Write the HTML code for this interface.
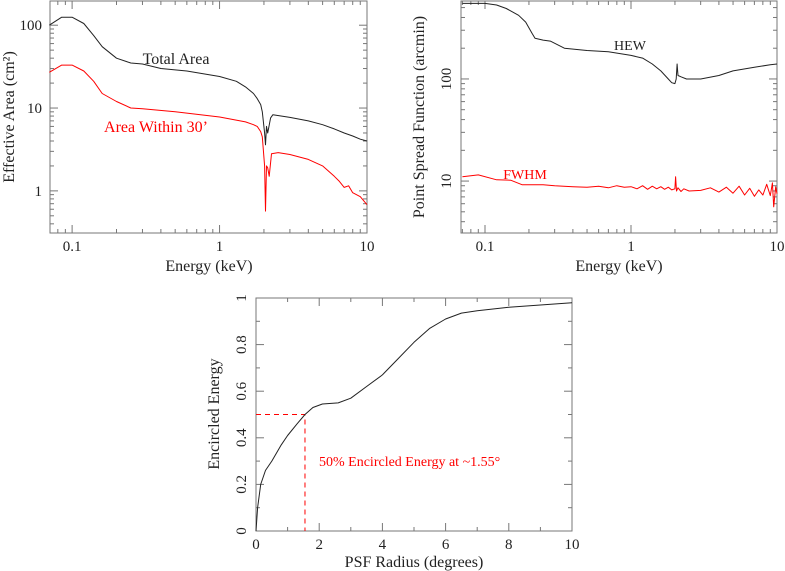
<!DOCTYPE html>
<html><head><meta charset="utf-8"><style>
html,body{margin:0;padding:0;background:#fff;}
svg{display:block;}
svg text{font-family:"Liberation Serif","DejaVu Serif",serif;}
</style></head><body>
<svg id="s" width="785" height="571" viewBox="0 0 785 571"></svg>
<script>
// Plot 1: Effective area
const eTot=[0.07,0.085,0.1,0.12,0.14,0.16,0.2,0.25,0.3,0.4,0.6,1,1.3,1.5,1.7,1.8,1.9,1.95,2.02,2.05,2.08,2.12,2.17,2.22,2.3,3,4,5,6,7,8,9,10];
const aTot=[100,125,125,105,75,55,40,35,34,30,28,24,21,18,15,13,11,9,5,3.6,6,5,6.2,7.6,8.3,7.7,7,6.3,5.6,5,4.6,4.2,4.0];
const eIn=[0.07,0.085,0.1,0.12,0.14,0.16,0.2,0.25,0.3,0.5,1,1.5,1.7,1.8,1.9,1.95,2.02,2.05,2.08,2.12,2.17,2.25,2.5,3,4,5,6,6.5,7,7.5,8,9,10];
const aIn=[27,33,33,28,21,15,12,10,9.8,9,7.8,6.8,6.3,6,5.2,4.5,2,0.57,2.0,1.9,1.5,2.8,2.9,2.75,2.4,2.0,1.5,1.3,1.1,1.15,0.95,0.85,0.68];
const yTicks1=[1,10,100];
// Plot 2: PSF
const eHew=[0.07,0.1,0.12,0.14,0.17,0.19,0.21,0.22,0.25,0.28,0.35,0.5,0.7,1,1.2,1.4,1.6,1.8,1.9,2.0,2.04,2.07,2.1,2.2,2.4,3,4,5,7,9,10];
const hew=[550,550,530,490,420,360,280,250,240,235,200,190,185,170,160,140,120,100,92,90,100,140,108,105,100,100,108,120,130,138,140];
const eFw=[0.07,0.09,0.12,0.15,0.18,0.25,0.3,0.4,0.5,0.6,0.7,0.8,0.9,1,1.1,1.2,1.3,1.4,1.5,1.6,1.7,1.8,1.9,2.0,2.02,2.05,2.1,2.2,2.3,2.5,3,3.5,4,4.5,5,5.5,6,6.5,7,7.5,8,8.5,9,9.3,9.5,9.8,10];
const fwhm=[11,11.5,10.3,10.2,9.2,9.2,9,8.8,8.7,8.9,8.6,9,8.7,8.8,8.4,9,8.3,8.9,8.4,8.8,8.3,8.7,8.2,8.4,11,8,8.6,7.9,8.4,8.0,8.1,8.6,7.8,8.7,7.6,8.9,7.3,8.5,7.1,8.2,7.3,9.3,7.2,9.6,5.6,8.8,7.5];
const yTicks2=[10,100];
// Plot 3: Encircled energy
const rad=[0,0.05,0.15,0.3,0.5,0.8,1,1.3,1.55,1.8,2.1,2.6,3,3.5,4,4.5,5,5.5,6,6.5,7,8,9,10];
const ee=[0,0.1,0.2,0.26,0.3,0.37,0.41,0.46,0.5,0.53,0.545,0.55,0.57,0.62,0.67,0.74,0.81,0.87,0.91,0.935,0.945,0.96,0.97,0.98];
const xTicks3=[0,2,4,6,8,10];
const yTicks3=[0,0.2,0.4,0.6,0.8,1];
const half=[1.55,0.5];

const NS="http://www.w3.org/2000/svg";
const svg=document.getElementById('s');
function mk(t,a,p){const e=document.createElementNS(NS,t);for(const k in a)e.setAttribute(k,a[k]);(p||svg).appendChild(e);return e;}
function txt(s,x,y,a,p){const e=mk('text',Object.assign({x:x,y:y,'font-size':15,'font-family':'Liberation Serif, serif',fill:'#222','text-anchor':'middle'},a),p);e.textContent=s;return e;}
function logS(a,b,p0,p1){return v=>p0+(Math.log10(v)-Math.log10(a))/(Math.log10(b)-Math.log10(a))*(p1-p0);}
function linS(a,b,p0,p1){return v=>p0+(v-a)/(b-a)*(p1-p0);}
function path(xs,ys,X,Y,col,p,nm){const d=xs.map((v,i)=>(i?'L':'M')+X(v).toFixed(1)+','+Y(ys[i]).toFixed(1)).join('');const e=mk('path',{d:d,fill:'none',stroke:col,'stroke-width':1,'stroke-linejoin':'round'},p);return e;}
function frame(L,T,R,B,g){mk('rect',{x:L,y:T,width:R-L,height:B-T,fill:'none',stroke:'#777','stroke-width':1},g);}
function tick(x1,y1,x2,y2,g){mk('line',{x1:x1,y1:y1,x2:x2,y2:y2,stroke:'#777','stroke-width':1},g);}
function logXTicks(X,L,R,T,B,g){for(let d=0.01;d<=10;d*=10)for(let m=1;m<10;m++){const v=d*m;const x=X(v);if(x<L-0.5||x>R+0.5)continue;const len=m==1?8:4;tick(x,B,x,B-len,g);tick(x,T,x,T+len,g);}}
function logYTicks(Y,L,R,T,B,g){for(let d=0.1;d<=1000;d*=10)for(let m=1;m<10;m++){const v=d*m;const y=Y(v);if(y<T-0.5||y>B+0.5)continue;const len=m==1?8:4;tick(L,y,L+len,y,g);tick(R,y,R-len,y,g);}}

// ---- Plot 1
{const g=mk('g',{});  
const L=50,R=367,T=1,B=233;const X=logS(0.0708,10,L,R),Y=logS(0.31,196,B,T);
frame(L,T,R,B,g);logXTicks(X,L,R,T,B,g);logYTicks(Y,L,R,T,B,g);
[[0.1,'0.1'],[1,'1'],[10,'10']].forEach(t=>{const e=txt(t[1],X(t[0]),251,{},g);});
yTicks1.forEach(v=>{const e=txt(String(v),L-8,Y(v)+5,{'text-anchor':'end'},g);});
path(eTot,aTot,X,Y,'#222',g,'total-area-line');path(eIn,aIn,X,Y,'#f00',g,'area-within-30-line');
let e=txt('Total Area',176,64,{'font-size':16},g);
e=txt('Area Within 30’',156,132,{'font-size':16,fill:'#f00'},g);
e=txt('Energy (keV)',209,271,{'font-size':16},g);
e=txt('Effective Area (cm²)',0,0,{'font-size':16,transform:'translate(14,117) rotate(-90)'},g);}

// ---- Plot 2
{const g=mk('g',{});  
const L=461,R=777,T=1,B=233;const X=logS(0.0685,10,L,R),Y=logS(3.1,580,B,T);
frame(L,T,R,B,g);logXTicks(X,L,R,T,B,g);logYTicks(Y,L,R,T,B,g);
[[0.1,'0.1'],[1,'1'],[10,'10']].forEach(t=>{const e=txt(t[1],X(t[0]),251,{},g);});
yTicks2.forEach(v=>{const e=txt(String(v),0,0,{transform:'translate('+(L-10)+','+Y(v)+') rotate(-90)'},g);});
path(eHew,hew,X,Y,'#222',g,'hew-line');path(eFw,fwhm,X,Y,'#f00',g,'fwhm-line');
let e=txt('HEW',630,50,{'font-size':14},g);
e=txt('FWHM',525,179,{'font-size':14,fill:'#f00'},g);
e=txt('Energy (keV)',619,271,{'font-size':16},g);
e=txt('Point Spread Function (arcmin)',0,0,{'font-size':16,transform:'translate(424,117) rotate(-90)'},g);}

// ---- Plot 3
{const g=mk('g',{});  
const L=256,R=572,T=298,B=531;const X=linS(0,10,L,R),Y=linS(0,1,B,T);
frame(L,T,R,B,g);
for(let v=0;v<=10.001;v+=1){const x=X(v),len=(Math.round(v)%2==0)?8:4;tick(x,B,x,B-len,g);tick(x,T,x,T+len,g);}
for(let v=0;v<=1.001;v+=0.1){const y=Y(v),len=(Math.round(v*10)%2==0)?8:4;tick(L,y,L+len,y,g);tick(R,y,R-len,y,g);}
xTicks3.forEach(v=>{const e=txt(String(v),X(v),549,{},g);});
yTicks3.forEach(v=>{const e=txt(String(v),0,0,{transform:'translate('+(L-10)+','+Y(v)+') rotate(-90)'},g);});
let e=mk('path',{d:'M'+L+','+Y(half[1])+'H'+X(half[0])+'V'+B,fill:'none',stroke:'#f00','stroke-dasharray':'5,4','stroke-width':1},g);

path(rad,ee,X,Y,'#222',g,'encircled-energy-line');
e=txt('50% Encircled Energy at ~1.55°',319,466,{'font-size':14,fill:'#f00','text-anchor':'start'},g);
e=txt('PSF Radius (degrees)',414,567,{'font-size':16},g);
e=txt('Encircled Energy',0,0,{'font-size':16,transform:'translate(219,414) rotate(-90)'},g);}
</script>
</body></html>
